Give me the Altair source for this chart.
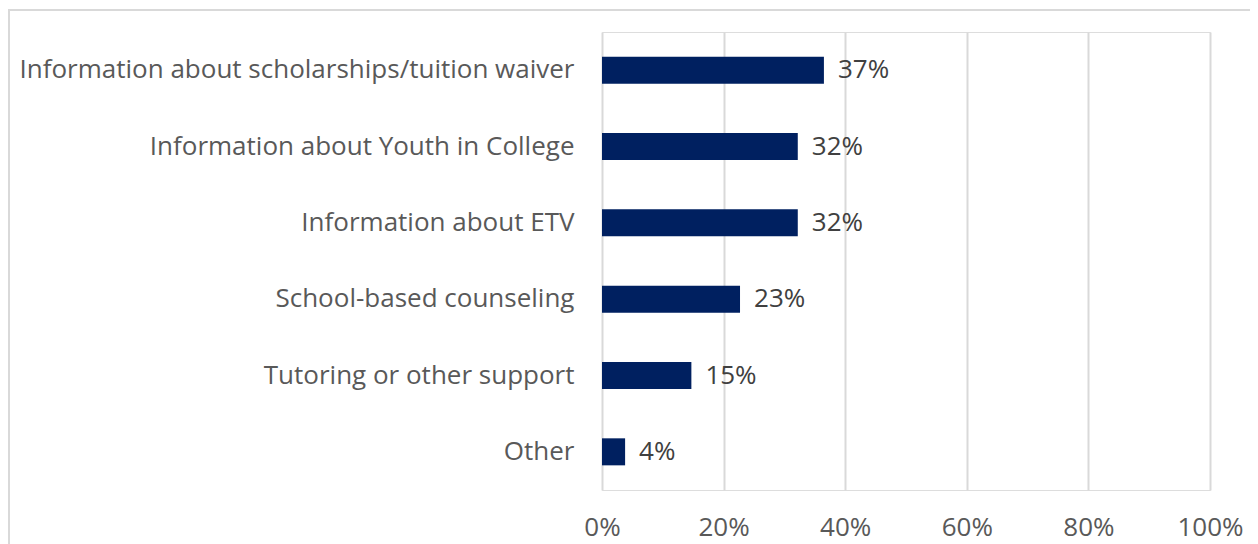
import altair as alt
import pandas as pd

categories = [
    "Information about scholarships/tuition waiver",
    "Information about Youth in College",
    "Information about ETV",
    "School-based counseling",
    "Tutoring or other support",
    "Other",
]
values = [0.365, 0.322, 0.322, 0.227, 0.147, 0.038]
x_ticks = [0, 0.2, 0.4, 0.6, 0.8, 1.0]

df = pd.DataFrame({"category": categories, "value": values})

FONT = "Open Sans"
FS = 26

y_enc = alt.Y(
    "category:N",
    sort=categories,
    scale=alt.Scale(paddingInner=0.646, paddingOuter=0.323),
    axis=alt.Axis(
        title=None,
        domain=False,
        ticks=False,
        grid=False,
        labelFont=FONT,
        labelFontSize=FS,
        labelFontWeight="normal",
        labelColor="#595959",
        labelPadding=28,
        labelLimit=800,
    ),
)
x_enc = alt.X(
    "value:Q",
    scale=alt.Scale(domain=[0, 1], nice=False),
    axis=alt.Axis(
        title=None,
        values=x_ticks,
        format=".0%",
        domain=False,
        ticks=False,
        grid=True,
        gridColor="#d9d9d9",
        gridWidth=2,
        labelFont=FONT,
        labelFontSize=FS,
        labelColor="#595959",
        labelPadding=24,
        labelFlush=False,
    ),
)

bars = alt.Chart(df).mark_bar(color="#002060").encode(x=x_enc, y=y_enc)
labels = alt.Chart(df).mark_text(
    align="left", baseline="middle", dx=14, font=FONT, fontSize=FS, color="#404040"
).encode(
    x="value:Q",
    y=alt.Y("category:N", sort=categories),
    text=alt.Text("value:Q", format=".0%"),
)
border = alt.Chart(df.head(1)).mark_rect(
    fill=None, stroke="#d9d9d9", strokeWidth=2
).encode(
    x=alt.value(-593),
    x2=alt.value(700),
    y=alt.value(-22),
    y2=alt.value(600),
)

chart = (
    alt.layer(border, bars, labels)
    .properties(
        width=608,
        height=458,
        autosize=alt.AutoSizeParams(type="none"),
        padding={"left": 594, "top": 24, "right": 40, "bottom": 56},
    )
    .configure_view(stroke=None)
    .configure(background="white")
)

chart.save("out.html", embed_options={"renderer": "svg", "actions": False})
